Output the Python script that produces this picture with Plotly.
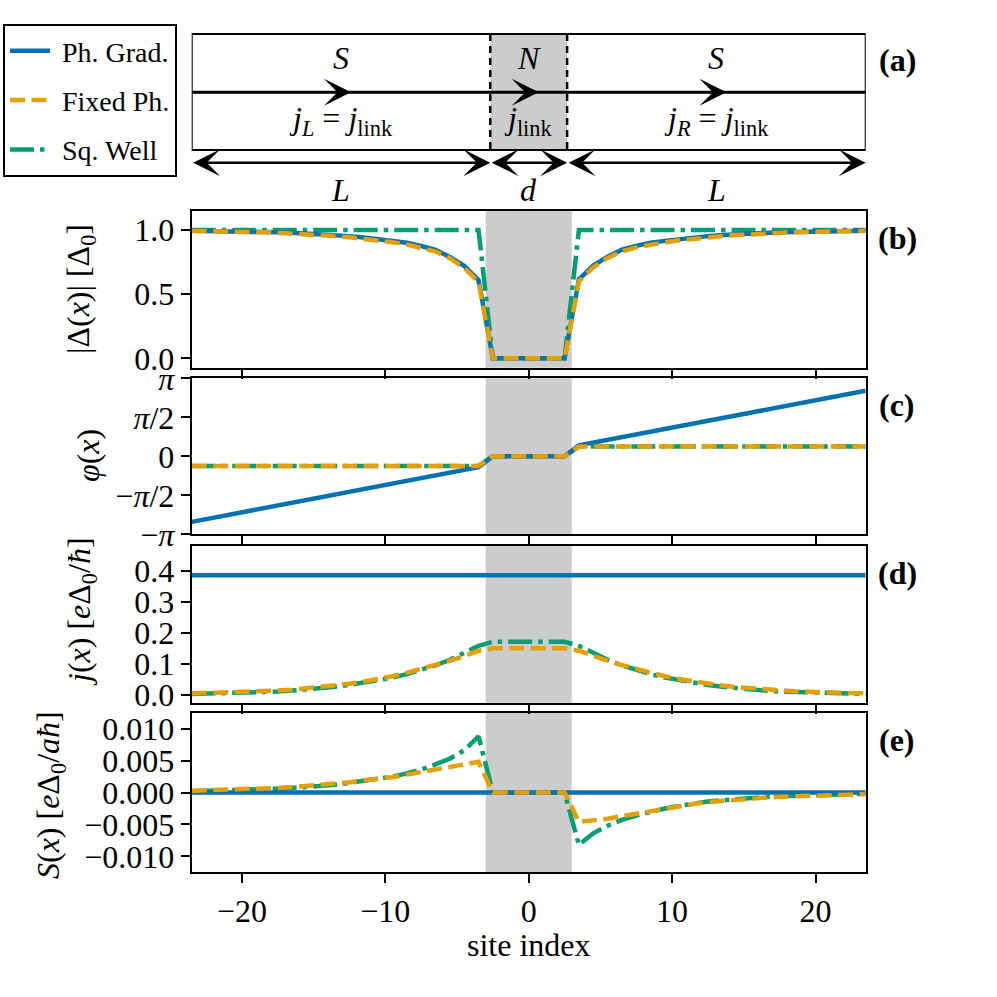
import plotly.graph_objects as go

# site positions (half-integer lattice sites)
sites = [-23.5, -22.5, -21.5, -20.5, -19.5, -18.5, -17.5, -16.5, -15.5, -14.5, -13.5,
         -12.5, -11.5, -10.5, -9.5, -8.5, -7.5, -6.5, -5.5, -4.5, -3.5,
         -2.5, -1.5, -0.5, 0.5, 1.5, 2.5,
         3.5, 4.5, 5.5, 6.5, 7.5, 8.5, 9.5, 10.5, 11.5, 12.5, 13.5,
         14.5, 15.5, 16.5, 17.5, 18.5, 19.5, 20.5, 21.5, 22.5, 23.5]

# |Delta(x)|
gap_grad = [0.994, 0.993, 0.992, 0.990, 0.988, 0.985, 0.982, 0.978, 0.973, 0.967, 0.960,
            0.952, 0.942, 0.930, 0.915, 0.900, 0.875, 0.845, 0.790, 0.720, 0.610,
            0, 0, 0, 0, 0, 0,
            0.615, 0.722, 0.792, 0.846, 0.876, 0.900, 0.915, 0.930, 0.942, 0.952, 0.960,
            0.967, 0.973, 0.978, 0.982, 0.985, 0.988, 0.990, 0.992, 0.993, 0.994]
gap_fixed = [0.993, 0.992, 0.990, 0.988, 0.985, 0.982, 0.978, 0.973, 0.967, 0.960, 0.952,
             0.943, 0.932, 0.919, 0.904, 0.887, 0.863, 0.832, 0.780, 0.705, 0.595,
             0, 0, 0, 0, 0, 0,
             0.600, 0.708, 0.782, 0.833, 0.864, 0.887, 0.904, 0.919, 0.932, 0.943, 0.952,
             0.960, 0.967, 0.973, 0.978, 0.982, 0.985, 0.988, 0.990, 0.992, 0.993]
gap_well = [1.0] * 21 + [0] * 6 + [1.0] * 21

# phase phi(x)
phase_grad = [-2.64, -2.53, -2.42, -2.31, -2.20, -2.09, -1.98, -1.87, -1.76, -1.65, -1.54,
              -1.43, -1.32, -1.21, -1.10, -0.99, -0.88, -0.77, -0.66, -0.55, -0.44,
              0, 0, 0, 0, 0, 0,
              0.44, 0.55, 0.66, 0.77, 0.88, 0.99, 1.10, 1.21, 1.32, 1.43, 1.54,
              1.65, 1.76, 1.87, 1.98, 2.09, 2.20, 2.31, 2.42, 2.53, 2.64]
phase_fixed = [-0.39] * 21 + [0] * 6 + [0.39] * 21
phase_well = [-0.39] * 21 + [0] * 6 + [0.39] * 21

# current j(x)
cur_grad = [0.385] * 48
cur_fixed = [0.005, 0.006, 0.007, 0.008, 0.010, 0.012, 0.014, 0.017, 0.021, 0.025, 0.030,
             0.036, 0.043, 0.051, 0.060, 0.071, 0.083, 0.096, 0.110, 0.125, 0.142,
             0.150, 0.150, 0.150, 0.150, 0.150, 0.150,
             0.142, 0.125, 0.110, 0.096, 0.083, 0.071, 0.060, 0.051, 0.043, 0.036, 0.030,
             0.025, 0.021, 0.017, 0.014, 0.012, 0.010, 0.008, 0.007, 0.006, 0.005]
cur_well = [0.003, 0.004, 0.005, 0.006, 0.007, 0.009, 0.011, 0.014, 0.017, 0.021, 0.026,
            0.032, 0.039, 0.047, 0.056, 0.067, 0.080, 0.095, 0.113, 0.134, 0.158,
            0.171, 0.171, 0.171, 0.171, 0.171, 0.171,
            0.158, 0.134, 0.113, 0.095, 0.080, 0.067, 0.056, 0.047, 0.039, 0.032, 0.026,
            0.021, 0.017, 0.014, 0.011, 0.009, 0.007, 0.006, 0.005, 0.004, 0.003]

# source term S(x)
src_grad = [0.0] * 48
src_fixed = [0.00026, 0.00031, 0.00037, 0.00044, 0.00052, 0.00061, 0.00072, 0.00085, 0.0010,
             0.0012, 0.0014, 0.0016, 0.0019, 0.0021, 0.0024, 0.0028, 0.0032, 0.0036, 0.0041,
             0.0045, 0.0048,
             0, 0, 0, 0, 0, 0,
             -0.0046, -0.0044, -0.0041, -0.0037, -0.0033, -0.0029, -0.0025, -0.0021, -0.0018,
             -0.0015, -0.0013, -0.0011, -0.00095, -0.0008, -0.00068, -0.00058, -0.00049,
             -0.00041, -0.00035, -0.0003, -0.00025]
src_well = [0.00020, 0.00024, 0.00029, 0.00035, 0.00042, 0.00050, 0.00060, 0.00072, 0.00086,
            0.0010, 0.0012, 0.0015, 0.0018, 0.0021, 0.0025, 0.0030, 0.0036, 0.0044, 0.0053,
            0.0066, 0.0088,
            0, 0, 0, 0, 0, 0,
            -0.0082, -0.0064, -0.0052, -0.0043, -0.0036, -0.0030, -0.0025, -0.0021, -0.0017,
            -0.0014, -0.0012, -0.0010, -0.00085, -0.0007, -0.0006, -0.0005, -0.00042,
            -0.00035, -0.0003, -0.00025, -0.0002]

junction = [-3, 3]
junction_sketch = [-2.68, 2.68]
xlim = [-23.5, 23.5]

BLUE = "#0072B2"
ORANGE = "#E69F00"
GREEN = "#009E73"
FONT = "Liberation Serif"
FS = 32
W = H = 997


def py(px):
    return 1 - px / H


xdom = [191.7 / W, 865.7 / W]
panels = [  # (axis suffix, top px, bottom px)
    ("", 210.7, 367.7),
    ("2", 378.3, 534.3),
    ("3", 545.7, 702.7),
    ("4", 712.7, 872.3),
]

series = [
    ("Sq. Well", GREEN, "24px,6px,4.5px,6px", 3, [gap_well, phase_well, cur_well, src_well]),
    ("Ph. Grad.", BLUE, None, 1, [gap_grad, phase_grad, cur_grad, src_grad]),
    ("Fixed Ph.", ORANGE, "15px,6.5px", 2, [gap_fixed, phase_fixed, cur_fixed, src_fixed]),
]

fig = go.Figure()
for name, col, dash, rank, ys in series:
    for i, (suf, top, bot) in enumerate(panels):
        fig.add_trace(go.Scatter(
            x=sites, y=ys[i], mode="lines", name="\u00a0" + name,
            line=dict(color=col, width=4.5, dash=dash),
            xaxis="x" + suf, yaxis="y" + suf,
            legendgroup=name, legendrank=rank, showlegend=(i == 0),
            hoverinfo="skip"))

axis_common = dict(showline=True, linecolor="black", linewidth=2, mirror=True,
                   ticks="outside", ticklen=9, tickwidth=2, tickcolor="black",
                   showgrid=False, zeroline=False,
                   tickfont=dict(family=FONT, size=FS, color="black"))

yopts = [
    dict(range=[-0.073, 1.15], tickvals=[0, 0.5, 1.0], tickformat=".1f"),
    dict(range=[-3.14159, 3.14159], tickvals=[-3.14159, -1.5708, 0, 1.5708, 3.14159],
         ticktext=["\u2212<i>\u03c0</i>", "\u2212<i>\u03c0</i>/2", "0",
                   "<i>\u03c0</i>/2", "<i>\u03c0</i>"]),
    dict(range=[-0.025, 0.48], tickvals=[0, 0.1, 0.2, 0.3, 0.4], tickformat=".1f"),
    dict(range=[-0.0125, 0.0125], tickvals=[-0.01, -0.005, 0, 0.005, 0.01], tickformat=".3f"),
]

layout = dict(width=W, height=H, margin=dict(l=0, r=0, t=0, b=0, pad=0, autoexpand=False),
              paper_bgcolor="white", plot_bgcolor="white",
              font=dict(family=FONT, size=FS, color="black"))
for i, (suf, top, bot) in enumerate(panels):
    layout["xaxis" + suf] = dict(axis_common, domain=xdom, range=xlim, anchor="y" + suf,
                                 dtick=10, tick0=0, showticklabels=(suf == "4"))
    if suf:
        layout["xaxis" + suf]["matches"] = "x"
    layout["yaxis" + suf] = dict(axis_common, domain=[py(bot), py(top)], anchor="x" + suf,
                                 **yopts[i])

# schematic panel (a): y axis in pixel units
layout["xaxis5"] = dict(domain=xdom, range=xlim, anchor="y5", visible=False)
layout["yaxis5"] = dict(domain=[py(200), py(20)], range=[200, 20], anchor="x5", visible=False)

layout["legend"] = dict(x=3 / W, y=py(24), xanchor="left", yanchor="top",
                        bordercolor="black", borderwidth=2, bgcolor="white",
                        font=dict(family=FONT, size=28, color="black"),
                        tracegroupgap=10, itemwidth=40)
fig.update_layout(**layout)

# shaded normal region in each panel
for suf, top, bot in panels:
    fig.add_shape(type="rect", xref="x" + suf, yref="y%s domain" % suf,
                  x0=junction[0], x1=junction[1], y0=0, y1=1,
                  fillcolor="#cccccc", line_width=0, layer="below")

# schematic
box_top, box_bot, wire_y, span_y, lab_y = 34, 150, 92.3, 162.7, 190
fig.add_shape(type="rect", xref="x5", yref="y5", x0=junction_sketch[0], x1=junction_sketch[1],
              y0=box_top, y1=box_bot, fillcolor="#cccccc", line_width=0, layer="below")
fig.add_shape(type="rect", xref="x5", yref="y5", x0=xlim[0], x1=xlim[1],
              y0=box_top, y1=box_bot, line=dict(color="black", width=2))
for xj in junction_sketch:
    fig.add_shape(type="line", xref="x5", yref="y5", x0=xj, x1=xj, y0=box_top, y1=box_bot,
                  line=dict(color="black", width=2.5, dash="7px,5px"))
fig.add_shape(type="line", xref="x5", yref="y5", x0=xlim[0], x1=xlim[1], y0=wire_y, y1=wire_y,
              line=dict(color="black", width=3))

centers = [(xlim[0] + junction_sketch[0]) / 2, 0, (junction_sketch[1] + xlim[1]) / 2]
region_names = ["<i>S</i>", "<i>N</i>", "<i>S</i>"]
current_labels = ["<i>j<sub>L</sub></i> = <i>j</i><sub>link</sub>",
                  "<i>j</i><sub>link</sub>",
                  "<i>j<sub>R</sub></i> = <i>j</i><sub>link</sub>"]
length_labels = ["<i>L</i>", "<i>d</i>", "<i>L</i>"]
edges = [xlim[0], junction_sketch[0], junction_sketch[1], xlim[1]]

txt = dict(showarrow=False, xanchor="center", yanchor="middle", font=dict(size=FS))
for k, c in enumerate(centers):
    fig.add_annotation(x=c, y=58, xref="x5", yref="y5", text=region_names[k], **txt)
    fig.add_annotation(x=c, y=121, xref="x5", yref="y5", text=current_labels[k], **txt)
    fig.add_annotation(x=c, y=lab_y, xref="x5", yref="y5", text=length_labels[k], **txt)
    # flow arrow on the wire
    fig.add_annotation(x=c + 0.7, y=wire_y, ax=c - 0.7, ay=wire_y, xref="x5", yref="y5",
                       axref="x5", ayref="y5", text="", showarrow=True, arrowhead=3,
                       arrowsize=1.8, arrowwidth=2.5, arrowcolor="black")
    # double span arrows
    fig.add_annotation(x=edges[k + 1], y=span_y, ax=edges[k], ay=span_y, xref="x5", yref="y5",
                       axref="x5", ayref="y5", text="", showarrow=True,
                       arrowhead=3, startarrowhead=3, arrowside="end+start",
                       arrowsize=1.8, startarrowsize=1.8, arrowwidth=2.5, arrowcolor="black")

# panel tags
tags = [("(a)", 60)] + [("(%s)" % t, p[1] + 27) for t, p in zip("bcde", panels)]
for tag, ypx in tags:
    fig.add_annotation(x=897 / W, y=py(ypx), xref="paper", yref="paper",
                       text="<b>%s</b>" % tag, **txt)

# axis titles
ylabels = [
    ("|\u0394(<i>x</i>)| [\u0394<sub>0</sub>]", 81, 289),
    ("<i>\u03c6</i>(<i>x</i>)", 88, 456),
    ("<i>j</i>(<i>x</i>) [<i>e</i>\u0394<sub>0</sub>/<i>\u0127</i>]", 81, 612),
    ("<i>S</i>(<i>x</i>) [<i>e</i>\u0394<sub>0</sub>/<i>a\u0127</i>]", 50, 795),
]
for label, xpx, ypx in ylabels:
    fig.add_annotation(x=xpx / W, y=py(ypx), xref="paper", yref="paper", text=label,
                       textangle=-90, **txt)
fig.add_annotation(x=528.9 / W, y=py(945), xref="paper", yref="paper", text="site index", **txt)

fig.write_html("out.html", config={"displayModeBar": False},
               post_script="document.body.style.margin='0';")
